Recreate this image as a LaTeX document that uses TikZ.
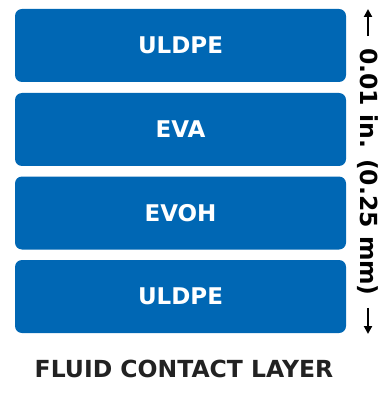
\documentclass[tikz,border=0pt]{standalone}
\usepackage{fontspec}
\setmainfont{DejaVu Sans}
\usetikzlibrary{arrows.meta}
\definecolor{layerblue}{HTML}{0067B4}
\definecolor{captiongray}{HTML}{222222}

\begin{document}
\begin{tikzpicture}[x=1pt, y=-1pt,
  layer/.style={shape=rectangle, fill=layerblue, rounded corners=7pt, minimum width=331pt, minimum height=73pt, text=white, font=\fontsize{23}{26}\selectfont\bfseries},
  dim/.style={-{Triangle[length=8pt,width=8pt]}, line width=2.5pt, draw=black}]
\useasboundingbox (0,0) rectangle (383,395);
\node[layer] (L1) at (180.5, 45.5) {ULDPE};
\node[layer] (L2) at (180.5, 129.5) {EVA};
\node[layer] (L3) at (180.5, 213) {EVOH};
\node[layer] (L4) at (180.5, 296.5) {ULDPE};
\node[rotate=-90, inner sep=0pt, font=\fontsize{23.5}{26}\selectfont\bfseries] (T) at (368, 172) {0.01 in. (0.25 mm)};
\coordinate (top) at (368, 9);
\coordinate (bot) at (368, 334);
\draw[dim] ([yshift=12pt]T.west) -- (top);
\draw[dim] ([yshift=-12pt]T.east) -- (bot);
\node[text=captiongray, font=\fontsize{23.5}{26}\selectfont\bfseries] (cap) at (184, 369) {FLUID CONTACT LAYER};
\end{tikzpicture}
\end{document}
